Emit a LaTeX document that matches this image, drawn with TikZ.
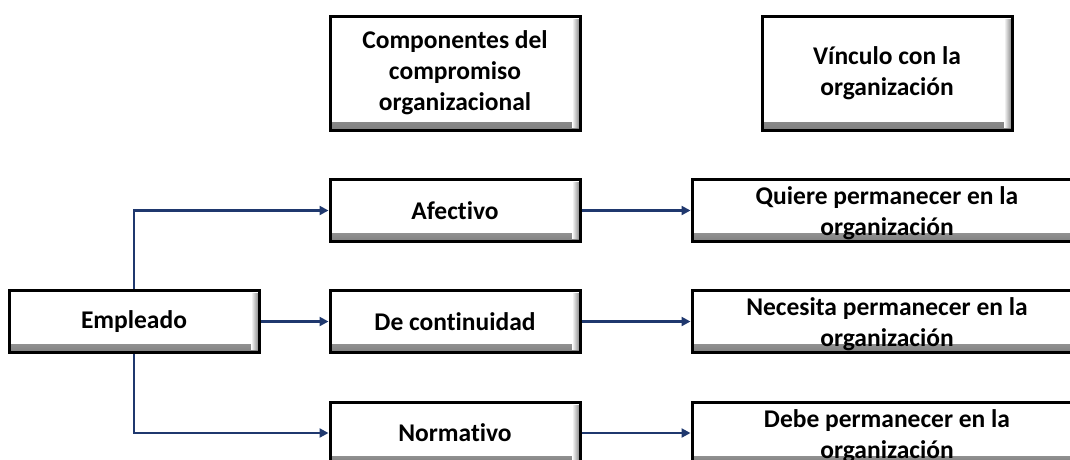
\documentclass[tikz,border=0pt]{standalone}
\usepackage{fontspec}
\setmainfont{Carlito}[RawFeature=-liga]
\usetikzlibrary{arrows.meta}
\definecolor{navy}{RGB}{31,56,110}
\tikzset{
  boxstyle/.style={draw=black, line width=3pt, fill=white, inner sep=0pt,
    minimum width=250pt,
    path picture={
      \shade[top color=white, bottom color=black!50]
        ([yshift=8pt]path picture bounding box.south west) rectangle (path picture bounding box.south east);
      \shade[left color=white, right color=black!50]
        ([xshift=-8pt,yshift=-3pt]path picture bounding box.north east) rectangle ([yshift=3pt]path picture bounding box.south east);
    }},
  txt/.style={font=\fontsize{25.5}{31}\selectfont\bfseries, align=center, text=black, inner sep=0pt},
  conn/.style={draw=navy, line width=2.2pt, -{Triangle[length=9pt,width=9pt]}}
}
\begin{document}
\begin{tikzpicture}[x=1pt,y=-1pt]
\useasboundingbox (0,0) rectangle (1070,459);
\clip (0,0) rectangle (1070,459);
% headers
\node[boxstyle, minimum height=114pt, txt] (h1) at (455,73) {Componentes del\\compromiso\\organizacional};
\node[boxstyle, minimum height=114pt, txt] (h2) at (887,73) {Vínculo con la\\organización};
% left
\node[boxstyle, minimum height=62pt, txt] (emp) at (134,321.5) {Empleado};
% middle
\node[boxstyle, minimum height=62pt, txt] (afe) at (455,210.5) {Afectivo};
\node[boxstyle, minimum height=62pt, txt] (con) at (455,321.5) {De continuidad};
\node[boxstyle, minimum height=62pt, txt] (nor) at (455,433) {Normativo};
% right
\node[boxstyle, minimum height=62pt, minimum width=390pt] (r1) at (887,210.5) {};
\node[boxstyle, minimum height=62pt, minimum width=390pt] (r2) at (887,321.5) {};
\node[boxstyle, minimum height=62pt, minimum width=390pt] (r3) at (887,433) {};
\node[txt] (t1) at ([yshift=-3pt]r1.center) {Quiere permanecer en la\\organización};
\node[txt] (t2) at ([yshift=-3pt]r2.center) {Necesita permanecer en la\\organización};
\node[txt] (t3) at ([yshift=-3pt]r3.center) {Debe permanecer en la\\organización};
% connectors
\draw[conn] (emp.north) |- (afe.west);
\draw[conn] (emp.east) -- (con.west);
\draw[conn] (emp.south) |- (nor.west);
\draw[conn] (afe.east) -- (r1.west);
\draw[conn] (con.east) -- (r2.west);
\draw[conn] (nor.east) -- (r3.west);
\end{tikzpicture}
\end{document}
